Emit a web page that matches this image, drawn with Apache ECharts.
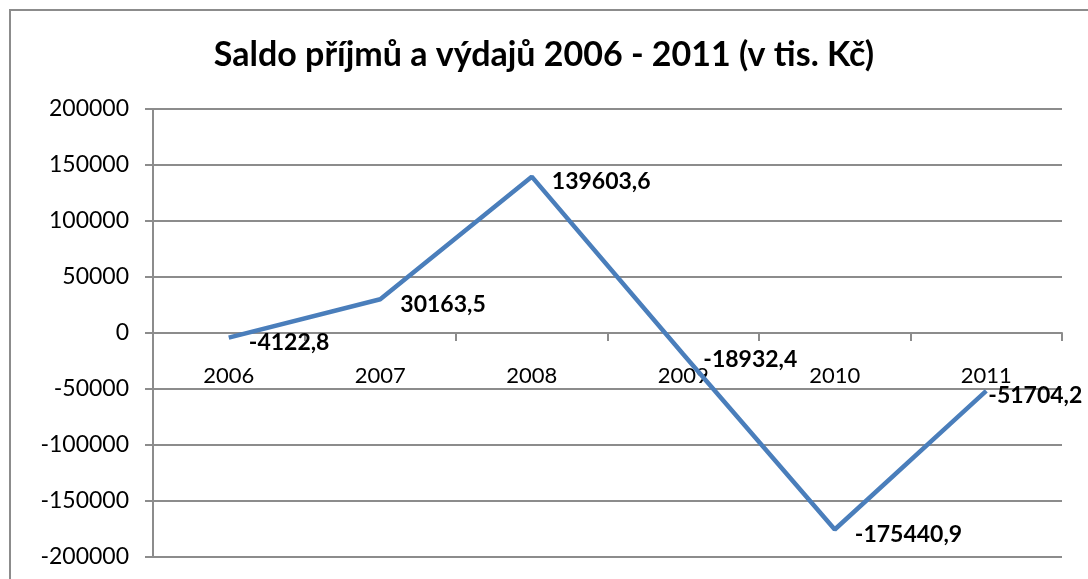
<!DOCTYPE html>
<html>
<head>
<meta charset="utf-8">
<script src="https://cdn.jsdelivr.net/npm/echarts@6/dist/echarts.min.js"></script>
<style>
  html, body { margin: 0; padding: 0; background: #fff; }
  #chart { width: 1088px; height: 579px; }
</style>
</head>
<body>
<div id="chart"></div>
<script>
// data
const years = ['2006', '2007', '2008', '2009', '2010', '2011'];
const saldo = [-4122.8, 30163.5, 139603.6, -18932.4, -175440.9, -51704.2];

const font = 'Lato, "Open Sans", sans-serif';
const gridColor = '#8c8c8c';

const chart = echarts.init(document.getElementById('chart'));

// last label sits tighter to its point, as in the original
const points = saldo.map((v, i) => i === saldo.length - 1
  ? { value: v, label: { distance: 2 } }
  : v);

chart.setOption({
  animation: false,
  backgroundColor: '#fff',
  title: {
    text: 'Saldo příjmů a výdajů 2006 - 2011 (v tis. Kč)',
    left: 'center',
    top: 33,
    textStyle: { fontFamily: font, fontSize: 34, fontWeight: 'bold', color: '#000' }
  },
  graphic: [{
    type: 'rect',
    shape: { x: 10, y: 10, width: 1100, height: 600 },
    style: { fill: 'none', stroke: gridColor, lineWidth: 2 }
  }],
  grid: { left: 153, right: 26, top: 109, bottom: 22, containLabel: false, outerBoundsMode: 'none' },
  xAxis: {
    type: 'category',
    data: years,
    boundaryGap: true,
    offset: -224,  // puts the axis on the zero line, labels follow it
    axisLine: { onZero: false, lineStyle: { color: gridColor, width: 2 } },
    axisTick: { show: true, length: 8, lineStyle: { color: gridColor, width: 2 } },
    axisLabel: { margin: 32, fontFamily: font, fontSize: 22, color: '#000' },
    splitLine: { show: false }
  },
  yAxis: {
    type: 'value',
    min: -200000,
    max: 200000,
    interval: 50000,
    axisLine: { show: true, lineStyle: { color: gridColor, width: 2 } },
    axisTick: { show: true, inside: false, length: 8, lineStyle: { color: gridColor, width: 2 } },
    axisLabel: { margin: 24, fontFamily: font, fontSize: 23, color: '#000', formatter: v => String(v) },
    splitLine: { show: true, lineStyle: { color: gridColor, width: 2 } }
  },
  series: [{
    type: 'line',
    data: points,
    symbol: 'circle',
    symbolSize: 0.1,
    lineStyle: { color: '#4a7ebb', width: 4.5 },
    itemStyle: { color: '#4a7ebb' },
    label: {
      show: true,
      position: 'right',
      distance: 20,
      offset: [0, 5],
      fontFamily: font,
      fontSize: 23,
      fontWeight: 'bold',
      color: '#000',
      formatter: p => String(p.value).replace('.', ',')
    }
  }]
});
</script>
</body>
</html>
